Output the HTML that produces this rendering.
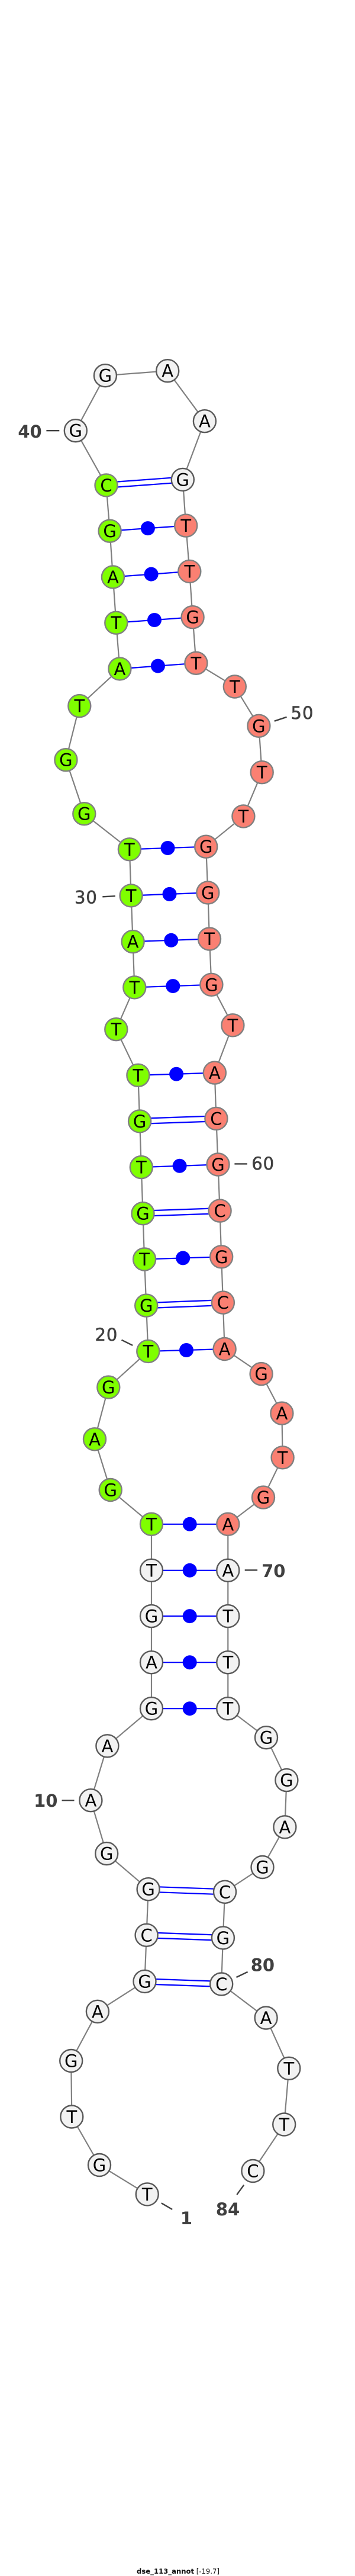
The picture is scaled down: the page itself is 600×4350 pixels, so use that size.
<!DOCTYPE html>
<html><head><meta charset="utf-8"><title>dse_113_annot</title>
<style>
html,body{margin:0;padding:0;background:#fff}
svg{display:block}
.n{stroke-width:2.4}
.w{fill:#f2f2f2;stroke:#595959}
.g{fill:#7fff00;stroke:#808080}
.r{fill:#fa8072;stroke:#808080}
.b{font:29px "DejaVu Sans",sans-serif;fill:#000;text-anchor:middle}
.l{font:bold 29px "DejaVu Sans",sans-serif;fill:#404040;text-anchor:middle}
.m{font:29px "DejaVu Sans",sans-serif;fill:#404040;stroke:#404040;stroke-width:.6;letter-spacing:1px;text-anchor:middle}
.t{stroke:#404040;stroke-width:2.4;fill:none}
.p{stroke:#0000ff;stroke-width:2.2;fill:none}
</style></head><body>
<svg xmlns="http://www.w3.org/2000/svg" width="600" height="4350" viewBox="0 0 600 4350">
<rect width="600" height="4350" fill="#fff"/>
<polyline fill="none" stroke="#808080" stroke-width="2.2" points="248.7,3705.4 168,3656 121.3,3574.5 120.2,3480 164.9,3396.8 244.5,3345.9 247.6,3267.8 250.6,3190.2 180.2,3130.1 153.4,3040.2 181.4,2948.3 256,2885.2 256,2807.2 256,2729.1 256,2651.8 256,2573.8 186.7,2516 160,2430.3 183.3,2342.6 250.3,2281.9 247.2,2204.6 244.1,2126.5 241.5,2049.2 238.8,1971.1 236.1,1893.4 233.4,1815.8 196.3,1738.2 227.3,1667.4 224.6,1590.1 221.6,1512.4 218.9,1434.3 142.3,1374.2 111.4,1283.2 134.3,1192.1 202.4,1129.4 196.3,1051.7 190.9,974.4 185.6,896.7 179.5,819.4 127.8,727.2 177.9,634.2 283.2,626.2 345.9,711.2 308.8,809.9 314.2,887.6 320.3,964.9 325.6,1042.2 331.4,1119.8 396.8,1159.5 437.4,1225.8 442.7,1304.2 411.4,1378.4 348.2,1429.7 351.3,1507.4 354,1585.5 357.4,1662.8 393.4,1731.3 362.8,1811.6 365.4,1888.9 368.5,1966.5 371.6,2044.6 374.2,2122.3 376.9,2199.6 379.6,2278 441.6,2320.1 476.4,2386.6 477.6,2461.3 445,2528.6 385.3,2573.8 385.3,2651.8 385.3,2729.1 385.3,2807.2 385.3,2885.2 450,2934.2 484.4,3006.1 481.4,3085.3 443.5,3153 380,3194.8 376.9,3272.4 374.2,3350.5 449.6,3407.5 488.3,3492.8 480.2,3587.5 427.4,3666"/>
<g class="p">
<line x1="179.5" y1="814.9" x2="308.8" y2="805.4"/><line x1="179.5" y1="823.9" x2="308.8" y2="814.4"/>
<line x1="185.6" y1="896.7" x2="314.2" y2="887.6"/>
<line x1="190.9" y1="974.4" x2="320.3" y2="964.9"/>
<line x1="196.3" y1="1051.7" x2="325.6" y2="1042.2"/>
<line x1="202.4" y1="1129.4" x2="331.4" y2="1119.8"/>
<line x1="218.9" y1="1434.3" x2="348.2" y2="1429.7"/>
<line x1="221.6" y1="1512.4" x2="351.3" y2="1507.4"/>
<line x1="224.6" y1="1590.1" x2="354" y2="1585.5"/>
<line x1="227.3" y1="1667.4" x2="357.4" y2="1662.8"/>
<line x1="233.4" y1="1815.8" x2="362.8" y2="1811.6"/>
<line x1="236.1" y1="1888.9" x2="365.4" y2="1884.4"/><line x1="236.1" y1="1897.9" x2="365.4" y2="1893.4"/>
<line x1="238.8" y1="1971.1" x2="368.5" y2="1966.5"/>
<line x1="241.5" y1="2044.7" x2="371.6" y2="2040.1"/><line x1="241.5" y1="2053.7" x2="371.6" y2="2049.1"/>
<line x1="244.1" y1="2126.5" x2="374.2" y2="2122.3"/>
<line x1="247.2" y1="2200.1" x2="376.9" y2="2195.1"/><line x1="247.2" y1="2209.1" x2="376.9" y2="2204.1"/>
<line x1="250.3" y1="2281.9" x2="379.6" y2="2278"/>
<line x1="256" y1="2573.8" x2="385.3" y2="2573.8"/>
<line x1="256" y1="2651.8" x2="385.3" y2="2651.8"/>
<line x1="256" y1="2729.1" x2="385.3" y2="2729.1"/>
<line x1="256" y1="2807.2" x2="385.3" y2="2807.2"/>
<line x1="256" y1="2885.2" x2="385.3" y2="2885.2"/>
<line x1="250.6" y1="3185.7" x2="380" y2="3190.3"/><line x1="250.6" y1="3194.7" x2="380" y2="3199.3"/>
<line x1="247.6" y1="3263.3" x2="376.9" y2="3267.9"/><line x1="247.6" y1="3272.3" x2="376.9" y2="3276.9"/>
<line x1="244.5" y1="3341.4" x2="374.2" y2="3346"/><line x1="244.5" y1="3350.4" x2="374.2" y2="3355"/>
</g>
<g fill="#0000ff">
<circle cx="249.9" cy="892.1" r="12"/>
<circle cx="255.6" cy="969.6" r="12"/>
<circle cx="261" cy="1047" r="12"/>
<circle cx="266.9" cy="1124.6" r="12"/>
<circle cx="283.5" cy="1432" r="12"/>
<circle cx="286.5" cy="1509.9" r="12"/>
<circle cx="289.3" cy="1587.8" r="12"/>
<circle cx="292.3" cy="1665.1" r="12"/>
<circle cx="298.1" cy="1813.7" r="12"/>
<circle cx="303.6" cy="1968.8" r="12"/>
<circle cx="309.2" cy="2124.4" r="12"/>
<circle cx="315" cy="2280" r="12"/>
<circle cx="320.7" cy="2573.8" r="12"/>
<circle cx="320.7" cy="2651.8" r="12"/>
<circle cx="320.7" cy="2729.1" r="12"/>
<circle cx="320.7" cy="2807.2" r="12"/>
<circle cx="320.7" cy="2885.2" r="12"/>
</g>
<g class="n">
<circle class="w" cx="248.7" cy="3705.4" r="19"/>
<circle class="w" cx="168" cy="3656" r="19"/>
<circle class="w" cx="121.3" cy="3574.5" r="19"/>
<circle class="w" cx="120.2" cy="3480" r="19"/>
<circle class="w" cx="164.9" cy="3396.8" r="19"/>
<circle class="w" cx="244.5" cy="3345.9" r="19"/>
<circle class="w" cx="247.6" cy="3267.8" r="19"/>
<circle class="w" cx="250.6" cy="3190.2" r="19"/>
<circle class="w" cx="180.2" cy="3130.1" r="19"/>
<circle class="w" cx="153.4" cy="3040.2" r="19"/>
<circle class="w" cx="181.4" cy="2948.3" r="19"/>
<circle class="w" cx="256" cy="2885.2" r="19"/>
<circle class="w" cx="256" cy="2807.2" r="19"/>
<circle class="w" cx="256" cy="2729.1" r="19"/>
<circle class="w" cx="256" cy="2651.8" r="19"/>
<circle class="g" cx="256" cy="2573.8" r="19"/>
<circle class="g" cx="186.7" cy="2516" r="19"/>
<circle class="g" cx="160" cy="2430.3" r="19"/>
<circle class="g" cx="183.3" cy="2342.6" r="19"/>
<circle class="g" cx="250.3" cy="2281.9" r="19"/>
<circle class="g" cx="247.2" cy="2204.6" r="19"/>
<circle class="g" cx="244.1" cy="2126.5" r="19"/>
<circle class="g" cx="241.5" cy="2049.2" r="19"/>
<circle class="g" cx="238.8" cy="1971.1" r="19"/>
<circle class="g" cx="236.1" cy="1893.4" r="19"/>
<circle class="g" cx="233.4" cy="1815.8" r="19"/>
<circle class="g" cx="196.3" cy="1738.2" r="19"/>
<circle class="g" cx="227.3" cy="1667.4" r="19"/>
<circle class="g" cx="224.6" cy="1590.1" r="19"/>
<circle class="g" cx="221.6" cy="1512.4" r="19"/>
<circle class="g" cx="218.9" cy="1434.3" r="19"/>
<circle class="g" cx="142.3" cy="1374.2" r="19"/>
<circle class="g" cx="111.4" cy="1283.2" r="19"/>
<circle class="g" cx="134.3" cy="1192.1" r="19"/>
<circle class="g" cx="202.4" cy="1129.4" r="19"/>
<circle class="g" cx="196.3" cy="1051.7" r="19"/>
<circle class="g" cx="190.9" cy="974.4" r="19"/>
<circle class="g" cx="185.6" cy="896.7" r="19"/>
<circle class="g" cx="179.5" cy="819.4" r="19"/>
<circle class="w" cx="127.8" cy="727.2" r="19"/>
<circle class="w" cx="177.9" cy="634.2" r="19"/>
<circle class="w" cx="283.2" cy="626.2" r="19"/>
<circle class="w" cx="345.9" cy="711.2" r="19"/>
<circle class="w" cx="308.8" cy="809.9" r="19"/>
<circle class="r" cx="314.2" cy="887.6" r="19"/>
<circle class="r" cx="320.3" cy="964.9" r="19"/>
<circle class="r" cx="325.6" cy="1042.2" r="19"/>
<circle class="r" cx="331.4" cy="1119.8" r="19"/>
<circle class="r" cx="396.8" cy="1159.5" r="19"/>
<circle class="r" cx="437.4" cy="1225.8" r="19"/>
<circle class="r" cx="442.7" cy="1304.2" r="19"/>
<circle class="r" cx="411.4" cy="1378.4" r="19"/>
<circle class="r" cx="348.2" cy="1429.7" r="19"/>
<circle class="r" cx="351.3" cy="1507.4" r="19"/>
<circle class="r" cx="354" cy="1585.5" r="19"/>
<circle class="r" cx="357.4" cy="1662.8" r="19"/>
<circle class="r" cx="393.4" cy="1731.3" r="19"/>
<circle class="r" cx="362.8" cy="1811.6" r="19"/>
<circle class="r" cx="365.4" cy="1888.9" r="19"/>
<circle class="r" cx="368.5" cy="1966.5" r="19"/>
<circle class="r" cx="371.6" cy="2044.6" r="19"/>
<circle class="r" cx="374.2" cy="2122.3" r="19"/>
<circle class="r" cx="376.9" cy="2199.6" r="19"/>
<circle class="r" cx="379.6" cy="2278" r="19"/>
<circle class="r" cx="441.6" cy="2320.1" r="19"/>
<circle class="r" cx="476.4" cy="2386.6" r="19"/>
<circle class="r" cx="477.6" cy="2461.3" r="19"/>
<circle class="r" cx="445" cy="2528.6" r="19"/>
<circle class="r" cx="385.3" cy="2573.8" r="19"/>
<circle class="w" cx="385.3" cy="2651.8" r="19"/>
<circle class="w" cx="385.3" cy="2729.1" r="19"/>
<circle class="w" cx="385.3" cy="2807.2" r="19"/>
<circle class="w" cx="385.3" cy="2885.2" r="19"/>
<circle class="w" cx="450" cy="2934.2" r="19"/>
<circle class="w" cx="484.4" cy="3006.1" r="19"/>
<circle class="w" cx="481.4" cy="3085.3" r="19"/>
<circle class="w" cx="443.5" cy="3153" r="19"/>
<circle class="w" cx="380" cy="3194.8" r="19"/>
<circle class="w" cx="376.9" cy="3272.4" r="19"/>
<circle class="w" cx="374.2" cy="3350.5" r="19"/>
<circle class="w" cx="449.6" cy="3407.5" r="19"/>
<circle class="w" cx="488.3" cy="3492.8" r="19"/>
<circle class="w" cx="480.2" cy="3587.5" r="19"/>
<circle class="w" cx="427.4" cy="3666" r="19"/>
</g>
<g class="b">
<text x="248.7" y="3715.9">T</text>
<text x="168" y="3666.5">G</text>
<text x="121.3" y="3585">T</text>
<text x="120.2" y="3490.5">G</text>
<text x="164.9" y="3407.3">A</text>
<text x="244.5" y="3356.4">G</text>
<text x="247.6" y="3278.3">C</text>
<text x="250.6" y="3200.7">G</text>
<text x="180.2" y="3140.6">G</text>
<text x="153.4" y="3050.7">A</text>
<text x="181.4" y="2958.8">A</text>
<text x="256" y="2895.7">G</text>
<text x="256" y="2817.7">A</text>
<text x="256" y="2739.6">G</text>
<text x="256" y="2662.3">T</text>
<text x="256" y="2584.3">T</text>
<text x="186.7" y="2526.5">G</text>
<text x="160" y="2440.8">A</text>
<text x="183.3" y="2353.1">G</text>
<text x="250.3" y="2292.4">T</text>
<text x="247.2" y="2215.1">G</text>
<text x="244.1" y="2137">T</text>
<text x="241.5" y="2059.7">G</text>
<text x="238.8" y="1981.6">T</text>
<text x="236.1" y="1903.9">G</text>
<text x="233.4" y="1826.3">T</text>
<text x="196.3" y="1748.7">T</text>
<text x="227.3" y="1677.9">T</text>
<text x="224.6" y="1600.6">A</text>
<text x="221.6" y="1522.9">T</text>
<text x="218.9" y="1444.8">T</text>
<text x="142.3" y="1384.7">G</text>
<text x="111.4" y="1293.7">G</text>
<text x="134.3" y="1202.6">T</text>
<text x="202.4" y="1139.9">A</text>
<text x="196.3" y="1062.2">T</text>
<text x="190.9" y="984.9">A</text>
<text x="185.6" y="907.2">G</text>
<text x="179.5" y="829.9">C</text>
<text x="127.8" y="737.7">G</text>
<text x="177.9" y="644.7">G</text>
<text x="283.2" y="636.7">A</text>
<text x="345.9" y="721.7">A</text>
<text x="308.8" y="820.4">G</text>
<text x="314.2" y="898.1">T</text>
<text x="320.3" y="975.4">T</text>
<text x="325.6" y="1052.7">G</text>
<text x="331.4" y="1130.3">T</text>
<text x="396.8" y="1170">T</text>
<text x="437.4" y="1236.3">G</text>
<text x="442.7" y="1314.7">T</text>
<text x="411.4" y="1388.9">T</text>
<text x="348.2" y="1440.2">G</text>
<text x="351.3" y="1517.9">G</text>
<text x="354" y="1596">T</text>
<text x="357.4" y="1673.3">G</text>
<text x="393.4" y="1741.8">T</text>
<text x="362.8" y="1822.1">A</text>
<text x="365.4" y="1899.4">C</text>
<text x="368.5" y="1977">G</text>
<text x="371.6" y="2055.1">C</text>
<text x="374.2" y="2132.8">G</text>
<text x="376.9" y="2210.1">C</text>
<text x="379.6" y="2288.5">A</text>
<text x="441.6" y="2330.6">G</text>
<text x="476.4" y="2397.1">A</text>
<text x="477.6" y="2471.8">T</text>
<text x="445" y="2539.1">G</text>
<text x="385.3" y="2584.3">A</text>
<text x="385.3" y="2662.3">A</text>
<text x="385.3" y="2739.6">T</text>
<text x="385.3" y="2817.7">T</text>
<text x="385.3" y="2895.7">T</text>
<text x="450" y="2944.7">G</text>
<text x="484.4" y="3016.6">G</text>
<text x="481.4" y="3095.8">A</text>
<text x="443.5" y="3163.5">G</text>
<text x="380" y="3205.3">C</text>
<text x="376.9" y="3282.9">G</text>
<text x="374.2" y="3361">C</text>
<text x="449.6" y="3418">A</text>
<text x="488.3" y="3503.3">T</text>
<text x="480.2" y="3598">T</text>
<text x="427.4" y="3676.5">C</text>
</g>
<g class="t">
<line x1="78.4" y1="727.2" x2="100.3" y2="727.2"/>
<line x1="463.8" y1="1217.7" x2="484.5" y2="1210.8"/>
<line x1="173.3" y1="1514.3" x2="194.8" y2="1513.2"/>
<line x1="396.4" y1="1965.4" x2="417.9" y2="1965.4"/>
<line x1="205.5" y1="2262.7" x2="224.2" y2="2271.9"/>
<line x1="413.7" y1="2651.4" x2="435.1" y2="2651.4"/>
<line x1="104.5" y1="3040.2" x2="125.5" y2="3040.2"/>
<line x1="399.5" y1="3339" x2="418.6" y2="3329.8"/>
<line x1="272.8" y1="3720.3" x2="291.2" y2="3731"/>
<line x1="400.3" y1="3706.1" x2="412.2" y2="3689.7"/>
</g>
<g>
<text class="l" x="50.5" y="739">40</text>
<text class="m" x="511" y="1214.2">50</text>
<text class="m" x="145.4" y="1525.3">30</text>
<text class="m" x="444.7" y="1975.2">60</text>
<text class="m" x="179.9" y="2264.1">20</text>
<text class="l" x="462.3" y="2662.8">70</text>
<text class="l" x="77.3" y="3051.1">10</text>
<text class="l" x="443.9" y="3328.6">80</text>
<text class="l" x="315" y="3756.1">1</text>
<text class="l" x="385" y="3741.2">84</text>
</g>
<text x="231" y="4346" font-family="DejaVu Sans, sans-serif" font-size="11.5" fill="#111" textLength="140" lengthAdjust="spacingAndGlyphs"><tspan font-weight="bold">dse_113_annot</tspan> [-19.7]</text>
</svg>
</body></html>
